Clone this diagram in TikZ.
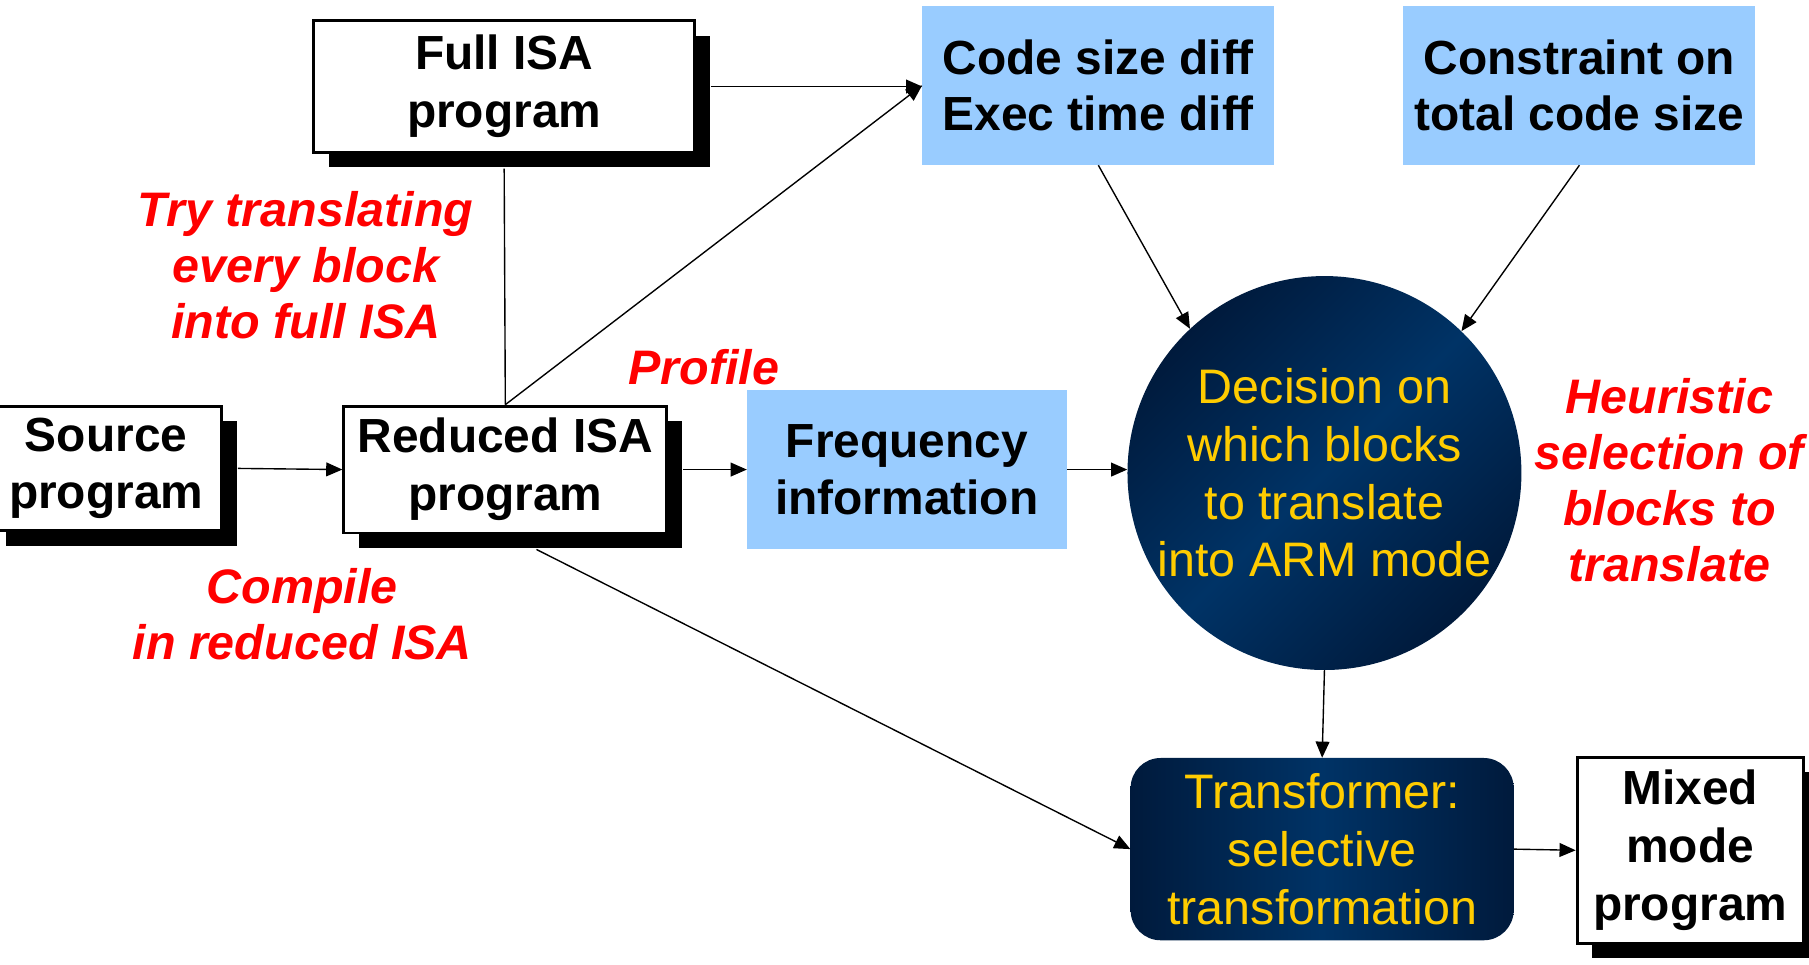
\documentclass[tikz,border=0pt]{standalone}
\usepackage{fontspec}
\setmainfont{Liberation Sans}
\usetikzlibrary{arrows.meta,shadows}
\definecolor{infoblue}{HTML}{99CCFF}
\definecolor{navy}{HTML}{003366}
\definecolor{navydark}{HTML}{001A3C}
\definecolor{gold}{HTML}{FFCC00}
\definecolor{notered}{HTML}{FF0000}
\begin{document}
\begin{tikzpicture}[x=1pt, y=-1pt]
    \tikzset{prog box/.style={draw,line width=2.5pt,fill=white,align=center,inner sep=0pt,
                 font=\bfseries\fontsize{41.5}{50}\selectfont,
                 general shadow={fill=black,shadow xshift=13pt,shadow yshift=-13pt}},
             info box/.style={fill=infoblue,align=center,inner sep=0pt,
                 font=\bfseries\fontsize{41.5}{49}\selectfont},
             dark text/.style={text=gold,align=center,inner sep=0pt,font=\fontsize{42}{50}\selectfont},
             note/.style={text=notered,align=center,font=\bfseries\itshape\fontsize{42}{48.5}\selectfont},
             arr/.style={line width=1.2pt,-{Triangle[length=14pt,width=12pt]}}}
    \useasboundingbox (0,0) rectangle (1568,836);

    % Program boxes (white, with black shadow)
    \node[prog box, minimum width=330pt, minimum height=114pt] (full) at (437,75) {Full ISA\\program};
    \node[prog box, minimum width=200pt, minimum height=108pt] (src) at (92,406) {Source\\program};
    \node[prog box, minimum width=280pt, minimum height=110pt] (red) at (438,407) {Reduced ISA\\program};
    \node[prog box, minimum width=196pt, minimum height=161pt] (mixed) at (1465,737) {Mixed\\mode\\program};

    % Information boxes (light blue)
    \node[info box, minimum width=305pt, minimum height=138pt] (code) at (952,74) {Code size diff\\Exec time diff};
    \node[info box, minimum width=305pt, minimum height=138pt] (cons) at (1369,74) {Constraint on\\total code size};
    \node[info box, minimum width=277pt, minimum height=138pt] (freq) at (786,407) {Frequency\\information};

    % Decision and transformer (dark blue)
    \node[dark text, circle, minimum size=336pt, left color=navydark, right color=navydark,
          middle color=navy, shading angle=45] (dec) at (1148,410)
        {Decision on\\which blocks\\to translate\\into ARM mode};
    \node[dark text, rounded corners=26pt, minimum width=332pt, minimum height=158pt,
          left color=navydark, right color=navydark, middle color=navy] (trans) at (1146,736)
        {Transformer:\\selective\\transformation};

    % Red notes
    \node[note] (try) at (265,230) {Try translating\\every block\\into full ISA};
    \node[note] (profile) at (610,318) {Profile};
    \node[note] (compile) at (262,532) {Compile\\in reduced ISA};
    \node[note] (heur) at (1447,416) {Heuristic\\selection of\\blocks to\\translate};

    % Connectors
    \draw[arr] ([xshift=13pt]full.east) -- (code.west |- full.east);
    \draw[line width=1.2pt] ([yshift=-13pt]full.south) -- (red.north);
    \draw[arr] (red.north) -- (code.west);
    \draw[arr] ([xshift=13pt]src.east) -- (red.west);
    \draw[arr] ([xshift=13pt]red.east) -- (freq.west);
    \draw[arr] (freq.east) -- (dec.west |- freq.east);
    \draw[arr] (code.south) -- (dec.133);
    \draw[arr] (cons.south) -- (dec.46);
    \draw[arr] (dec.south) -- (trans.north);
    \draw[arr] ([xshift=27pt,yshift=-13pt]red.south) -- (trans.west);
    \draw[arr] (trans.east) -- (mixed.west);

\end{tikzpicture}
\end{document}
